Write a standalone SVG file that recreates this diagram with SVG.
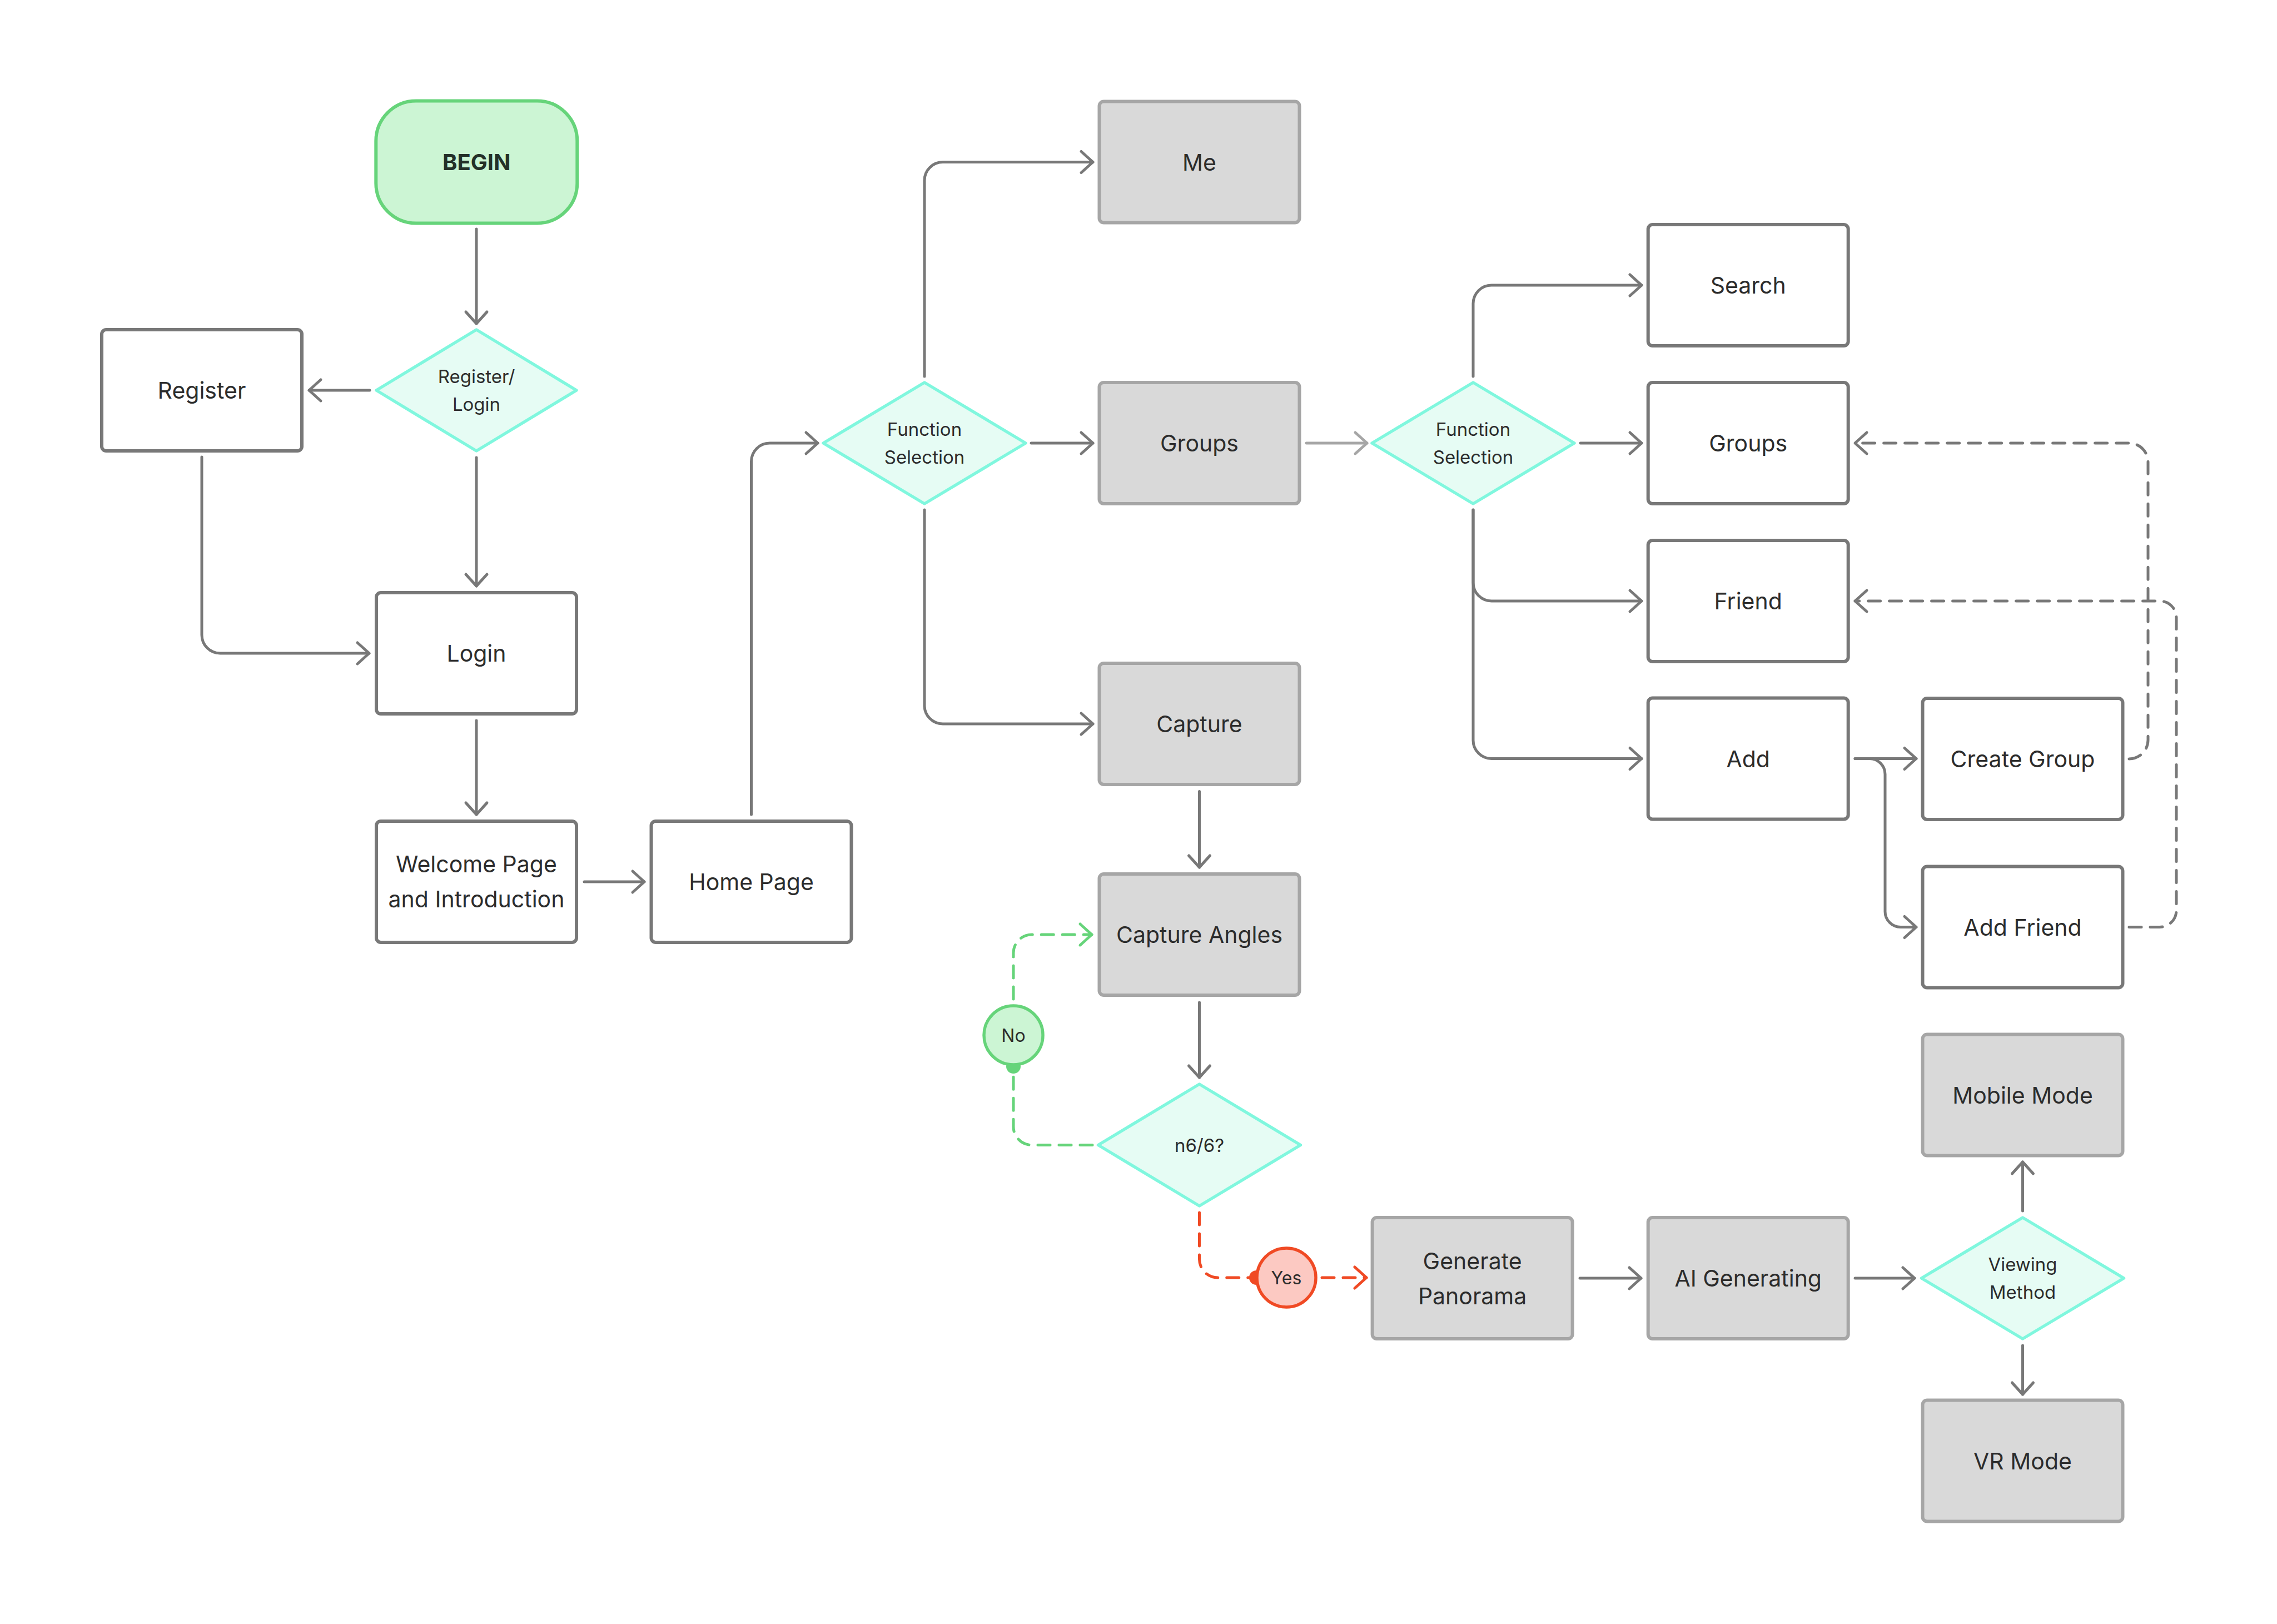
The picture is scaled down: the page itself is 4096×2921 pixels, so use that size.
<svg xmlns="http://www.w3.org/2000/svg" width="4096" height="2921" viewBox="0 0 4096 2921">
<style>
.box{fill:#ffffff;stroke:#787878;stroke-width:6}
.gbox{fill:#d9d9d9;stroke:#a6a6a6;stroke-width:6}
.dia{fill:#e6fcf4;stroke:#80f7de;stroke-width:5.5;stroke-linejoin:round}
.t{font-family:Inter,"Liberation Sans",sans-serif;font-size:41px;fill:#2c2c2c;text-anchor:middle;dominant-baseline:central}
.td{font-family:Inter,"Liberation Sans",sans-serif;font-size:33px;fill:#2c2c2c;text-anchor:middle;dominant-baseline:central}
.c{fill:none;stroke:#787878;stroke-width:5;stroke-linecap:round;stroke-linejoin:round}
.cl{fill:none;stroke:#a6a6a6;stroke-width:5;stroke-linecap:round}
.dash{fill:none;stroke:#787878;stroke-width:5;stroke-linecap:round;stroke-dasharray:22 16}
.gd{fill:none;stroke:#66d47a;stroke-width:5;stroke-linecap:round;stroke-dasharray:22 16}
.rd{fill:none;stroke:#f04a24;stroke-width:5;stroke-linecap:round;stroke-dasharray:22 16}
</style>
<defs>
<marker id="a" markerUnits="userSpaceOnUse" markerWidth="50" markerHeight="50" viewBox="-25 -25 50 50" refX="0" refY="0" orient="auto"><path d="M-21,-19 L0,0 L-21,19" fill="none" stroke="#787878" stroke-width="5" stroke-linecap="round" stroke-linejoin="round"/></marker>
<marker id="al" markerUnits="userSpaceOnUse" markerWidth="50" markerHeight="50" viewBox="-25 -25 50 50" refX="0" refY="0" orient="auto"><path d="M-21,-19 L0,0 L-21,19" fill="none" stroke="#a6a6a6" stroke-width="5" stroke-linecap="round" stroke-linejoin="round"/></marker>
<marker id="ag" markerUnits="userSpaceOnUse" markerWidth="50" markerHeight="50" viewBox="-25 -25 50 50" refX="0" refY="0" orient="auto"><path d="M-21,-19 L0,0 L-21,19" fill="none" stroke="#66d47a" stroke-width="5" stroke-linecap="round" stroke-linejoin="round"/></marker>
<marker id="ar" markerUnits="userSpaceOnUse" markerWidth="50" markerHeight="50" viewBox="-25 -25 50 50" refX="0" refY="0" orient="auto"><path d="M-21,-19 L0,0 L-21,19" fill="none" stroke="#f04a24" stroke-width="5" stroke-linecap="round" stroke-linejoin="round"/></marker>
</defs>
<rect width="4096" height="2921" fill="#ffffff"/>

<g id="connectors">
<path class="c" d="M857,412 V582" marker-end="url(#a)"/>
<path class="c" d="M665,702 H556" marker-end="url(#a)"/>
<path class="c" d="M857,823 V1054" marker-end="url(#a)"/>
<path class="c" d="M363,822 V1142 A33,33 0 0 0 396,1175 H664" marker-end="url(#a)"/>
<path class="c" d="M857,1296 V1465" marker-end="url(#a)"/>
<path class="c" d="M1051,1586 H1159" marker-end="url(#a)"/>
<path class="c" d="M1351.5,1465 V830 A33,33 0 0 1 1384.5,797 H1471" marker-end="url(#a)"/>
<path class="c" d="M1663,677 V324.5 A33,33 0 0 1 1696,291.5 H1966" marker-end="url(#a)"/>
<path class="c" d="M1855,797 H1966" marker-end="url(#a)"/>
<path class="c" d="M1663,917 V1269 A33,33 0 0 0 1696,1302 H1966" marker-end="url(#a)"/>
<path class="cl" d="M2350,797 H2459" marker-end="url(#al)"/>
<path class="c" d="M2650,677 V546 A33,33 0 0 1 2683,513 H2953" marker-end="url(#a)"/>
<path class="c" d="M2843,797 H2953" marker-end="url(#a)"/>
<path class="c" d="M2650,917 V1048 A33,33 0 0 0 2683,1081 H2953" marker-end="url(#a)"/>
<path class="c" d="M2650,917 V1331.5 A33,33 0 0 0 2683,1364.5 H2953" marker-end="url(#a)"/>
<path class="c" d="M3337,1364.5 H3447" marker-end="url(#a)"/>
<path class="c" d="M3337,1364.5 H3363 A28,28 0 0 1 3391,1392.5 V1639.5 A28,28 0 0 0 3419,1667.5 H3447" marker-end="url(#a)"/>
<path class="dash" d="M3830,1365 A34,34 0 0 0 3864,1331 V831 A34,34 0 0 0 3830,797 H3337" marker-end="url(#a)"/>
<path class="dash" d="M3830,1667.5 H3885 A30,30 0 0 0 3915,1637.5 V1111 A30,30 0 0 0 3885,1081 H3337" marker-end="url(#a)"/>
<path class="c" d="M2157.5,1423.5 V1560" marker-end="url(#a)"/>
<path class="c" d="M2157.5,1803 V1938" marker-end="url(#a)"/>
<path class="gd" d="M1965,2059.5 H1856 A33,33 0 0 1 1823,2026.5 V1918"/>
<path class="gd" d="M1823,1797 V1714 A33,33 0 0 1 1856,1681 H1964" marker-end="url(#ag)"/>
<circle cx="1823" cy="1918" r="13" fill="#66d47a"/>
<path class="rd" d="M2157.5,2181 V2265 A33,33 0 0 0 2190.5,2298 H2260"/>
<path class="rd" d="M2378,2298 H2458" marker-end="url(#ar)"/>
<circle cx="2260" cy="2298" r="13" fill="#f04a24"/>
<path class="c" d="M2842,2299 H2952" marker-end="url(#a)"/>
<path class="c" d="M3337,2299 H3444" marker-end="url(#a)"/>
<path class="c" d="M3638.5,2178 V2090" marker-end="url(#a)"/>
<path class="c" d="M3638.5,2420 V2508" marker-end="url(#a)"/>
</g>

<g id="begin">
<rect x="676.3" y="181.5" width="362" height="220" rx="72" fill="#ccf5d4" stroke="#66d47a" stroke-width="6"/>
<text x="857.3" y="291.5" class="t" style="font-weight:700;font-size:40px;fill:#243028">BEGIN</text>
</g>
<g id="register-login">
<polygon class="dia" points="677,702 857,593 1037,702 857,811"/>
<text class="td" x="857" y="677">Register/</text>
<text class="td" x="857" y="727">Login</text>
</g>
<g id="register">
<rect class="box" x="183" y="593" width="360" height="218" rx="8"/>
<text class="t" x="363" y="702">Register</text>
</g>
<g id="login">
<rect class="box" x="677" y="1066" width="360" height="218" rx="8"/>
<text class="t" x="857" y="1175">Login</text>
</g>
<g id="welcome">
<rect class="box" x="677" y="1477" width="360" height="218" rx="8"/>
<text class="t" x="857" y="1554">Welcome Page</text>
<text class="t" x="857" y="1617">and Introduction</text>
</g>
<g id="home">
<rect class="box" x="1171.5" y="1477" width="360" height="218" rx="8"/>
<text class="t" x="1351.5" y="1586">Home Page</text>
</g>
<g id="function-selection-1">
<polygon class="dia" points="1481,797 1663,688 1845,797 1663,906"/>
<text class="td" x="1663" y="772">Function</text>
<text class="td" x="1663" y="822">Selection</text>
</g>
<g id="me">
<rect class="gbox" x="1977.5" y="182.5" width="360" height="218" rx="8"/>
<text class="t" x="2157.5" y="291.5">Me</text>
</g>
<g id="groups-1">
<rect class="gbox" x="1977.5" y="688" width="360" height="218" rx="8"/>
<text class="t" x="2157.5" y="797">Groups</text>
</g>
<g id="capture">
<rect class="gbox" x="1977.5" y="1193" width="360" height="218" rx="8"/>
<text class="t" x="2157.5" y="1302">Capture</text>
</g>
<g id="capture-angles">
<rect class="gbox" x="1977.5" y="1572" width="360" height="218" rx="8"/>
<text class="t" x="2157.5" y="1681">Capture Angles</text>
</g>
<g id="n6-6">
<polygon class="dia" points="1975.5,2059.5 2157.5,1950 2339.5,2059.5 2157.5,2169"/>
<text class="td" x="2157.5" y="2059.5">n6/6?</text>
</g>
<g id="no">
<circle cx="1823" cy="1862" r="53" fill="#ccf5d4" stroke="#66d47a" stroke-width="5.5"/>
<text class="td" x="1823" y="1862" style="font-size:32px">No</text>
</g>
<g id="yes">
<circle cx="2314" cy="2298" r="53" fill="#fcc9c2" stroke="#f04a24" stroke-width="5.5"/>
<text class="td" x="2314" y="2298" style="font-size:32px">Yes</text>
</g>
<g id="generate-panorama">
<rect class="gbox" x="2468.6" y="2190" width="360" height="218" rx="8"/>
<text class="t" x="2648.6" y="2267.5">Generate</text>
<text class="t" x="2648.6" y="2330.5">Panorama</text>
</g>
<g id="ai-generating">
<rect class="gbox" x="2964.7" y="2190" width="360" height="218" rx="8"/>
<text class="t" x="3144.7" y="2299">AI Generating</text>
</g>
<g id="viewing-method">
<polygon class="dia" points="3456.5,2299 3638.5,2190 3820.5,2299 3638.5,2408"/>
<text class="td" x="3638.5" y="2274">Viewing</text>
<text class="td" x="3638.5" y="2324">Method</text>
</g>
<g id="mobile-mode">
<rect class="gbox" x="3458.5" y="1860.5" width="360" height="218" rx="8"/>
<text class="t" x="3638.5" y="1969.5">Mobile Mode</text>
</g>
<g id="vr-mode">
<rect class="gbox" x="3458.5" y="2518.5" width="360" height="218" rx="8"/>
<text class="t" x="3638.5" y="2627.5">VR Mode</text>
</g>
<g id="function-selection-2">
<polygon class="dia" points="2468,797 2650,688 2832,797 2650,906"/>
<text class="td" x="2650" y="772">Function</text>
<text class="td" x="2650" y="822">Selection</text>
</g>
<g id="search">
<rect class="box" x="2964.7" y="404" width="360" height="218" rx="8"/>
<text class="t" x="3144.7" y="513">Search</text>
</g>
<g id="groups-2">
<rect class="box" x="2964.7" y="688" width="360" height="218" rx="8"/>
<text class="t" x="3144.7" y="797">Groups</text>
</g>
<g id="friend">
<rect class="box" x="2964.7" y="972" width="360" height="218" rx="8"/>
<text class="t" x="3144.7" y="1081">Friend</text>
</g>
<g id="add">
<rect class="box" x="2964.7" y="1255.5" width="360" height="218" rx="8"/>
<text class="t" x="3144.7" y="1364.5">Add</text>
</g>
<g id="create-group">
<rect class="box" x="3458.5" y="1256" width="360" height="218" rx="8"/>
<text class="t" x="3638.5" y="1365">Create Group</text>
</g>
<g id="add-friend">
<rect class="box" x="3458.5" y="1558.5" width="360" height="218" rx="8"/>
<text class="t" x="3638.5" y="1667.5">Add Friend</text>
</g>
</svg>
